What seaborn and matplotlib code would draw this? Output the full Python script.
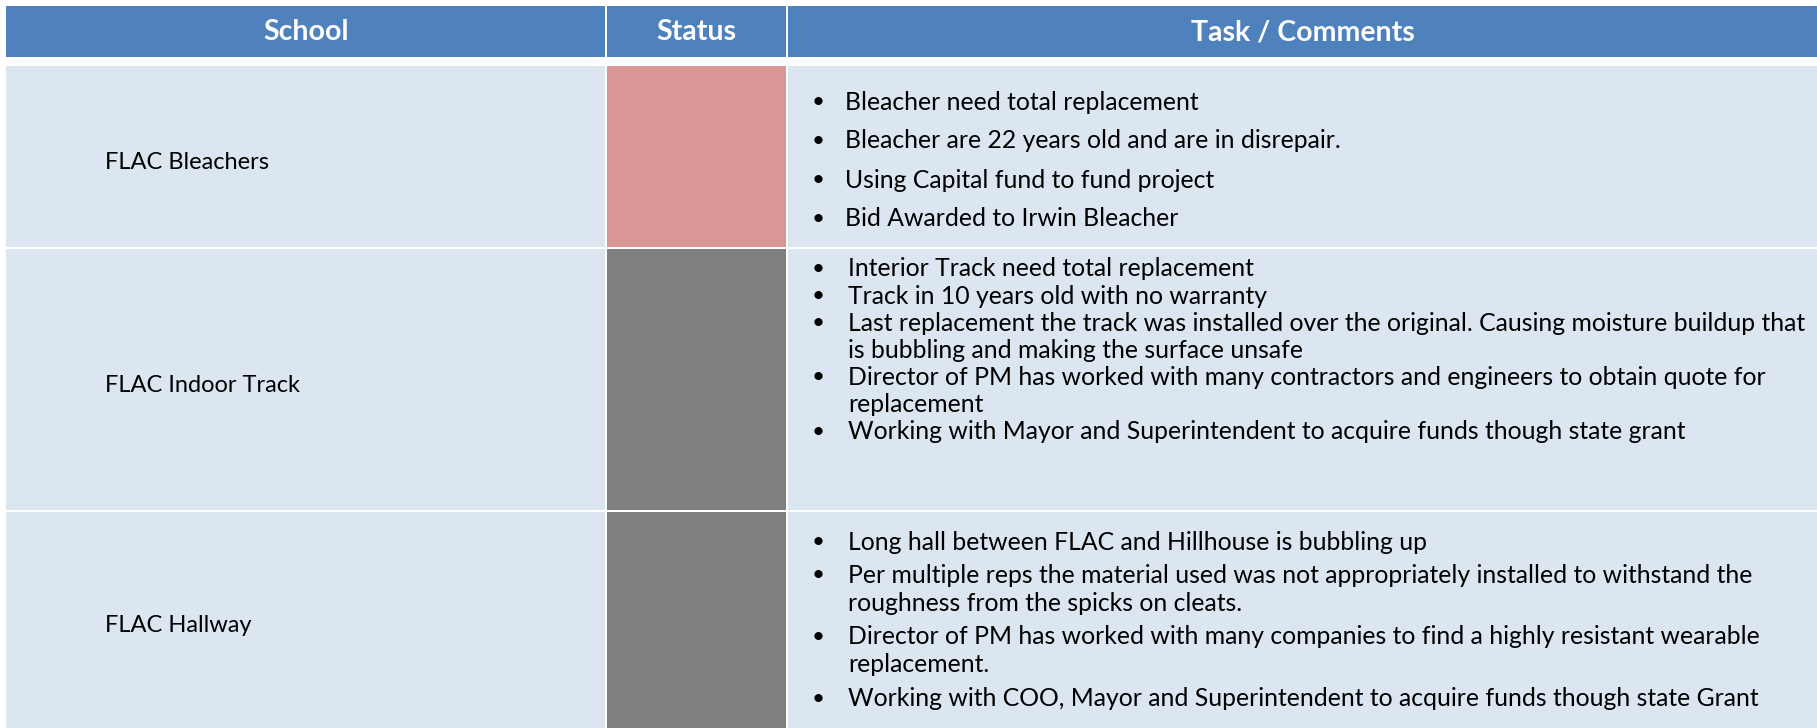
import matplotlib.pyplot as plt
import matplotlib.patches as mpatches
import seaborn as sns

# table content
headers = ["School", "Status", "Task / Comments"]
schools = ["FLAC Bleachers", "FLAC Indoor Track", "FLAC Hallway"]
status = ["At risk", "Not started", "Not started"]
comments_bleachers = [
    ["Bleacher need total replacement"],
    ["Bleacher are 22 years old and are in disrepair."],
    ["Using Capital fund to fund project"],
    ["Bid Awarded to Irwin Bleacher"],
]
comments_track = [
    ["Interior Track need total replacement"],
    ["Track in 10 years old with no warranty"],
    ["Last replacement the track was installed over the original. Causing moisture buildup that",
     "is bubbling and making the surface unsafe"],
    ["Director of PM has worked with many contractors and engineers to obtain quote for",
     "replacement"],
    ["Working with Mayor and Superintendent to acquire funds though state grant"],
]
comments_hallway = [
    ["Long hall between FLAC and Hillhouse is bubbling up"],
    ["Per multiple reps the material used was not appropriately installed to withstand the",
     "roughness from the spicks on cleats."],
    ["Director of PM has worked with many companies to find a highly resistant wearable",
     "replacement."],
    ["Working with COO, Mayor and Superintendent to acquire funds though state Grant"],
]
comments = [comments_bleachers, comments_track, comments_hallway]

# layout (pixel coordinates)
W, H = 1817, 728
col_edges = [6, 606, 787, W + 2]
header_y = (6, 57)
row_y = [(66, 247), (249, 510), (512, H + 5)]
text_layout = [(102, 39.0, 39.0), (269, 27.1, 27.1), (542, 33.5, 28.0)]
text_x = [845, 848, 848]
status_colors = {"At risk": "#DA9694", "Not started": "#808080"}
header_color = "#4F81BD"
body_color = "#DCE6F1"

sns.set_style("white")
plt.rcParams['font.family'] = ['Lato', 'DejaVu Sans']

fig = plt.figure(figsize=(W / 100, H / 100), dpi=100)
ax = fig.add_axes([0, 0, 1, 1])
ax.set_xlim(0, W)
ax.set_ylim(H, 0)
ax.axis('off')

gap = 2
# header
for i, h in enumerate(headers):
    x0, x1 = col_edges[i], col_edges[i + 1]
    ax.add_patch(mpatches.Rectangle((x0 + (gap / 2 if i else 0), header_y[0]),
                                    x1 - x0 - (gap / 2 if i else 0) - gap / 2,
                                    header_y[1] - header_y[0],
                                    facecolor=header_color, edgecolor='none'))
    ax.text((x0 + x1) / 2, sum(header_y) / 2 + 1, h, color='white', fontsize=20.5,
            fontweight='bold', ha='center', va='center')

# body rows
for r, (y0, y1) in enumerate(row_y):
    for c in range(3):
        x0, x1 = col_edges[c], col_edges[c + 1]
        fc = status_colors[status[r]] if c == 1 else body_color
        ax.add_patch(mpatches.Rectangle((x0 + (gap / 2 if c else 0), y0),
                                        x1 - x0 - (gap / 2 if c else 0) - gap / 2,
                                        y1 - y0, facecolor=fc, edgecolor='none'))
    ax.text(105, (y0 + min(y1, H)) / 2 + 6, schools[r],
            fontsize=17, color='black', ha='left', va='center')
    y, bgap, wgap = text_layout[r]
    first = True
    for bullet in comments[r]:
        if not first:
            y += bgap
        first = False
        ax.text(812, y, "\u2022", fontsize=16, color='black', ha='left', va='center')
        for j, line in enumerate(bullet):
            if j > 0:
                y += wgap
            ax.text(text_x[r], y, line, fontsize=17.8, color='black', ha='left', va='center')

fig.savefig('out.png', dpi=100)
